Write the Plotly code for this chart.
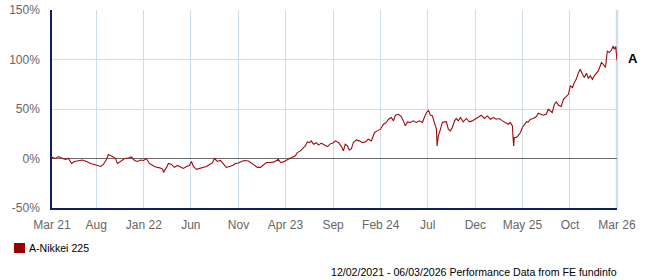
import plotly.graph_objects as go

# ---- data ----
dates = [
    "2021-03-17", "2021-03-18", "2021-03-28", "2021-04-07", "2021-04-20", "2021-04-29", "2021-05-09",
    "2021-05-19", "2021-05-28", "2021-06-10", "2021-06-23", "2021-07-06", "2021-07-19", "2021-07-31",
    "2021-08-10", "2021-08-20", "2021-08-29", "2021-09-08", "2021-09-14", "2021-09-18", "2021-09-27",
    "2021-10-07", "2021-10-13", "2021-10-23", "2021-11-05", "2021-11-18", "2021-11-27", "2021-12-07",
    "2021-12-17", "2021-12-26", "2022-01-05", "2022-01-14", "2022-01-24", "2022-01-30", "2022-02-09",
    "2022-02-19", "2022-02-28", "2022-03-08", "2022-03-10", "2022-03-20", "2022-03-26", "2022-04-05",
    "2022-04-14", "2022-04-24", "2022-05-04", "2022-05-13", "2022-05-23", "2022-06-01", "2022-06-08",
    "2022-06-14", "2022-06-24", "2022-07-04", "2022-07-13", "2022-07-26", "2022-08-05", "2022-08-14",
    "2022-08-21", "2022-08-30", "2022-09-09", "2022-09-19", "2022-09-28", "2022-10-08", "2022-10-18",
    "2022-10-27", "2022-11-06", "2022-11-15", "2022-11-25", "2022-12-08", "2022-12-18", "2022-12-27",
    "2023-01-06", "2023-01-15", "2023-01-25", "2023-02-04", "2023-02-17", "2023-03-01", "2023-03-14",
    "2023-03-21", "2023-03-30", "2023-04-09", "2023-04-19", "2023-04-28", "2023-05-08", "2023-05-14",
    "2023-05-24", "2023-06-03", "2023-06-09", "2023-06-15", "2023-06-22", "2023-06-28", "2023-07-05",
    "2023-07-14", "2023-07-21", "2023-07-30", "2023-08-09", "2023-08-19", "2023-08-28", "2023-09-07",
    "2023-09-13", "2023-09-23", "2023-10-03", "2023-10-09", "2023-10-15", "2023-10-22", "2023-10-28",
    "2023-11-04", "2023-11-10", "2023-11-20", "2023-11-29", "2023-12-09", "2023-12-19", "2023-12-28",
    "2024-01-07", "2024-01-17", "2024-01-26", "2024-02-05", "2024-02-15", "2024-02-24", "2024-03-02",
    "2024-03-11", "2024-03-18", "2024-03-24", "2024-04-03", "2024-04-12", "2024-04-19", "2024-04-25",
    "2024-05-02", "2024-05-11", "2024-05-21", "2024-05-30", "2024-06-09", "2024-06-19", "2024-06-25",
    "2024-07-02", "2024-07-08", "2024-07-11", "2024-07-14", "2024-07-21", "2024-07-27", "2024-08-03",
    "2024-08-05", "2024-08-09", "2024-08-16", "2024-08-22", "2024-08-28", "2024-09-04", "2024-09-10",
    "2024-09-17", "2024-09-23", "2024-09-30", "2024-10-06", "2024-10-12", "2024-10-19", "2024-10-28",
    "2024-11-07", "2024-11-17", "2024-11-26", "2024-12-06", "2024-12-16", "2024-12-25", "2025-01-04",
    "2025-01-14", "2025-01-23", "2025-02-02", "2025-02-11", "2025-02-21", "2025-03-03", "2025-03-12",
    "2025-03-22", "2025-03-28", "2025-04-04", "2025-04-06", "2025-04-08", "2025-04-10", "2025-04-16",
    "2025-04-22", "2025-04-30", "2025-05-06", "2025-05-12", "2025-05-19", "2025-05-25", "2025-06-01",
    "2025-06-10", "2025-06-20", "2025-06-26", "2025-07-06", "2025-07-12", "2025-07-22", "2025-07-28",
    "2025-08-04", "2025-08-10", "2025-08-17", "2025-08-23", "2025-08-30", "2025-09-08", "2025-09-15",
    "2025-09-24", "2025-10-01", "2025-10-07", "2025-10-14", "2025-10-20", "2025-10-26", "2025-11-02",
    "2025-11-08", "2025-11-15", "2025-11-21", "2025-11-28", "2025-12-04", "2025-12-10", "2025-12-17",
    "2025-12-23", "2025-12-30", "2026-01-05", "2026-01-15", "2026-01-21", "2026-01-28", "2026-02-03",
    "2026-02-09", "2026-02-16", "2026-02-22", "2026-02-25", "2026-03-02", "2026-03-04", "2026-03-06",
]
values = [
    0.0, 1.0, 0.0, 2.0, 0.0, -1.0, 0.0,
    -5.0, -3.0, -2.0, -1.5, -3.0, -5.0, -6.0,
    -7.0, -8.0, -6.0, -1.0, 4.0, 3.5, 2.0,
    0.0, -5.0, -3.0, 0.0, 0.5, 1.5, -2.0,
    -3.0, -1.5, -2.0, 0.0, -5.0, -6.0, -8.0,
    -9.0, -9.5, -11.0, -14.0, -9.0, -5.0, -6.0,
    -9.0, -7.0, -9.0, -10.0, -8.0, -7.0, -3.0,
    -8.0, -11.0, -10.0, -9.0, -8.0, -6.0, -4.5,
    0.0, -3.0, -2.0, -6.0, -9.0, -8.0, -7.0,
    -5.0, -4.5, -3.0, -2.0, -2.5, -4.7, -7.4,
    -9.0, -9.0, -6.7, -4.0, -4.0, -3.4, -0.7,
    -4.0, -3.4, -1.4, 0.0, 1.3, 2.7, 6.0,
    7.7, 11.0, 12.8, 16.8, 16.0, 17.8, 14.4,
    16.0, 13.5, 15.5, 13.5, 12.0, 14.8, 16.0,
    17.8, 16.2, 12.0, 7.7, 14.4, 12.7, 8.7,
    10.0, 16.2, 18.8, 17.8, 16.2, 16.8, 19.5,
    17.8, 26.3, 27.9, 29.6, 34.6, 36.4, 39.7,
    41.4, 38.0, 43.7, 44.7, 42.4, 38.0, 33.0,
    37.0, 36.4, 38.0, 36.4, 38.0, 36.4, 41.4,
    46.5, 48.5, 47.0, 44.0, 43.0, 36.4, 29.6,
    12.7, 22.8, 29.6, 36.4, 37.0, 37.0, 29.6,
    27.9, 31.3, 38.0, 40.4, 38.0, 41.4, 37.0,
    40.4, 37.0, 38.0, 39.7, 41.4, 43.7, 40.4,
    43.0, 39.7, 41.4, 39.7, 40.4, 38.0, 36.4,
    34.6, 36.4, 33.0, 21.2, 12.7, 21.2, 21.2,
    22.8, 26.3, 31.3, 34.6, 37.0, 37.0, 39.7,
    40.4, 42.4, 45.8, 44.7, 43.7, 44.7, 49.8,
    48.0, 46.5, 54.8, 57.2, 53.8, 52.5, 59.7,
    63.0, 64.8, 73.3, 71.7, 76.8, 80.0, 86.7,
    90.2, 85.1, 81.8, 86.2, 80.8, 83.5, 80.0,
    83.5, 86.2, 88.5, 97.0, 95.2, 91.9, 108.7,
    107.0, 109.6, 113.6, 110.3, 113.0, 105.0, 99.0,
]
series_name = "A-Nikkei 225"
series_tag = "A"

tick_dates = [
    "2021-03-17", "2021-08-06", "2022-01-06", "2022-06-06", "2022-11-06", "2023-04-06",
    "2023-09-06", "2024-02-06", "2024-07-06", "2024-12-06", "2025-05-06", "2025-10-06", "2026-03-06",
]
tick_labels = [
    "Mar 21", "Aug", "Jan 22", "Jun", "Nov", "Apr 23",
    "Sep", "Feb 24", "Jul", "Dec", "May 25", "Oct", "Mar 26",
]
y_ticks = [-50, 0, 50, 100, 150]
y_labels = ["-50%", "0%", "50%", "100%", "150%"]
footer = "12/02/2021 - 06/03/2026 Performance Data from FE fundinfo"

LINE = "#9e0a0e"
GRID = "#cfdde8"
AXIS = "#0c1f66"
TICKC = "#666666"
FONT = "Liberation Sans, Arial, sans-serif"

fig = go.Figure()
fig.add_trace(go.Scatter(
    x=dates, y=values, mode="lines", name=series_name,
    line=dict(color=LINE, width=1.1), showlegend=False,
))

fig.update_layout(
    width=647, height=280,
    margin=dict(l=52, r=30, t=10, b=72, autoexpand=False),
    paper_bgcolor="white", plot_bgcolor="white",
    font=dict(family=FONT, size=12, color=TICKC),
    xaxis=dict(
        type="date", range=[tick_dates[0], tick_dates[-1]], automargin=False,
        tickmode="array", tickvals=tick_dates, ticktext=tick_labels,
        showgrid=True, gridcolor=GRID, gridwidth=1,
        showline=True, linecolor=AXIS, linewidth=1.5,
        ticks="", ticklabelstandoff=5, zeroline=False,
        tickfont=dict(size=12, color=TICKC),
    ),
    yaxis=dict(
        range=[-50, 150], automargin=False,
        tickmode="array", tickvals=y_ticks, ticktext=y_labels,
        showgrid=True, gridcolor=GRID, gridwidth=1,
        showline=True, linecolor=AXIS, linewidth=1.5,
        zeroline=True, zerolinecolor="#6b6b6b", zerolinewidth=1,
        ticks="", ticklabelstandoff=8,
        tickfont=dict(size=12, color=TICKC),
    ),
    shapes=[
        dict(type="line", xref="paper", yref="paper", x0=1, x1=1, y0=0, y1=1,
             line=dict(color=GRID, width=2.5), layer="below"),
        dict(type="rect", xref="paper", yref="paper",
             x0=-0.0673, x1=-0.0478, y0=-0.2273, y1=-0.1768,
             fillcolor="#990000", line=dict(width=0)),
    ],
    annotations=[
        dict(x=dates[-1], y=values[-1], xref="x", yref="y", text="<b>" + series_tag + "</b>",
             showarrow=False, xanchor="left", yanchor="middle", xshift=9, yshift=2,
             font=dict(family=FONT, size=13, color="black")),
        dict(x=-0.0389, y=-0.202, xref="paper", yref="paper", text=series_name,
             showarrow=False, xanchor="left", yanchor="middle", xshift=-3,
             font=dict(family=FONT, size=10.6, color="black")),
        dict(x=1, y=-0.3232, xref="paper", yref="paper", text=footer,
             showarrow=False, xanchor="right", yanchor="middle", xshift=2,
             font=dict(family=FONT, size=10.6, color="black")),
    ],
)

fig.write_html("out.html")
